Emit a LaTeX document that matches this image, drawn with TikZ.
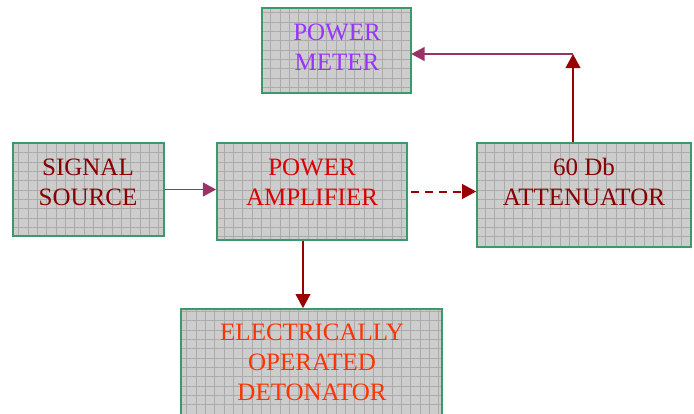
\documentclass[tikz,border=0pt]{standalone}
\usepackage{fontspec}
\setmainfont{Liberation Serif}
\usetikzlibrary{arrows.meta,fit,patterns.meta}
\definecolor{boxgreen}{HTML}{3A9A6A}
\definecolor{boxgray}{HTML}{CDCDCD}
\definecolor{gridgray}{HTML}{ABABAB}
\definecolor{linkpurple}{HTML}{993366}
\definecolor{linkred}{HTML}{990000}
\definecolor{txtmaroon}{HTML}{880000}
\definecolor{txtred}{HTML}{DD0000}
\definecolor{txtviolet}{HTML}{9933FF}
\definecolor{txtorange}{HTML}{FF3300}
\tikzset{
  block/.style={draw=boxgreen, line width=1.3pt, inner sep=0pt,
    preaction={fill=boxgray},
    pattern={Hatch[distance=7pt,angle=0,line width=0.45pt]}, pattern color=gridgray},
  blocktext/.style={align=center, inner sep=0pt, font=\fontsize{18.75}{22.5}\selectfont},
  purplelink/.style={draw=linkpurple, line width=1pt, -{Triangle[length=10pt,width=10.5pt]}},
  redlink/.style={draw=linkred, line width=1.3pt, -{Triangle[length=10.5pt,width=11pt]}}
}
\begin{document}
\begin{tikzpicture}[x=0.75pt,y=-0.75pt]
\useasboundingbox (0,0) rectangle (694,414);

% boxes
\node[block, fit={(262,8) (411,93)}] (pm) {};
\node[block, fit={(13,143) (164,236)}] (src) {};
\node[block, fit={(217,143) (407,240)}] (amp) {};
\node[block, fit={(477,143) (691,247)}] (att) {};
\node[block, fit={(181,309) (442,418)}] (det) {};

% texts
\node[blocktext, text=txtviolet] (pm-t) at (337,47) {POWER\\METER};
\node[blocktext, text=txtmaroon] (src-t) at (88,182) {SIGNAL\\SOURCE};
\node[blocktext, text=txtred] (amp-t) at (312,182) {POWER\\AMPLIFIER};
\node[blocktext, text=txtmaroon] (att-t) at (584,182) {60 Db\\ATTENUATOR};
\node[blocktext, text=txtorange] (det-t) at (312,362) {ELECTRICALLY\\OPERATED\\DETONATOR};

% links
\coordinate (bend) at (573,54);
\draw[purplelink] (src.east) -- (src.east -| amp.west);
\draw[redlink, line width=1.5pt, dash pattern=on 6pt off 4.5pt] ([xshift=2.5pt]amp.east) -- (amp.east -| att.west);
\draw[redlink] (att.north -| bend) -- (bend);
\draw[purplelink] (bend) -- (bend -| pm.east);
\draw[redlink] ([xshift=-6.75pt]amp.south) -- ([xshift=-6.75pt]amp.south |- det.north);
\end{tikzpicture}
\end{document}
